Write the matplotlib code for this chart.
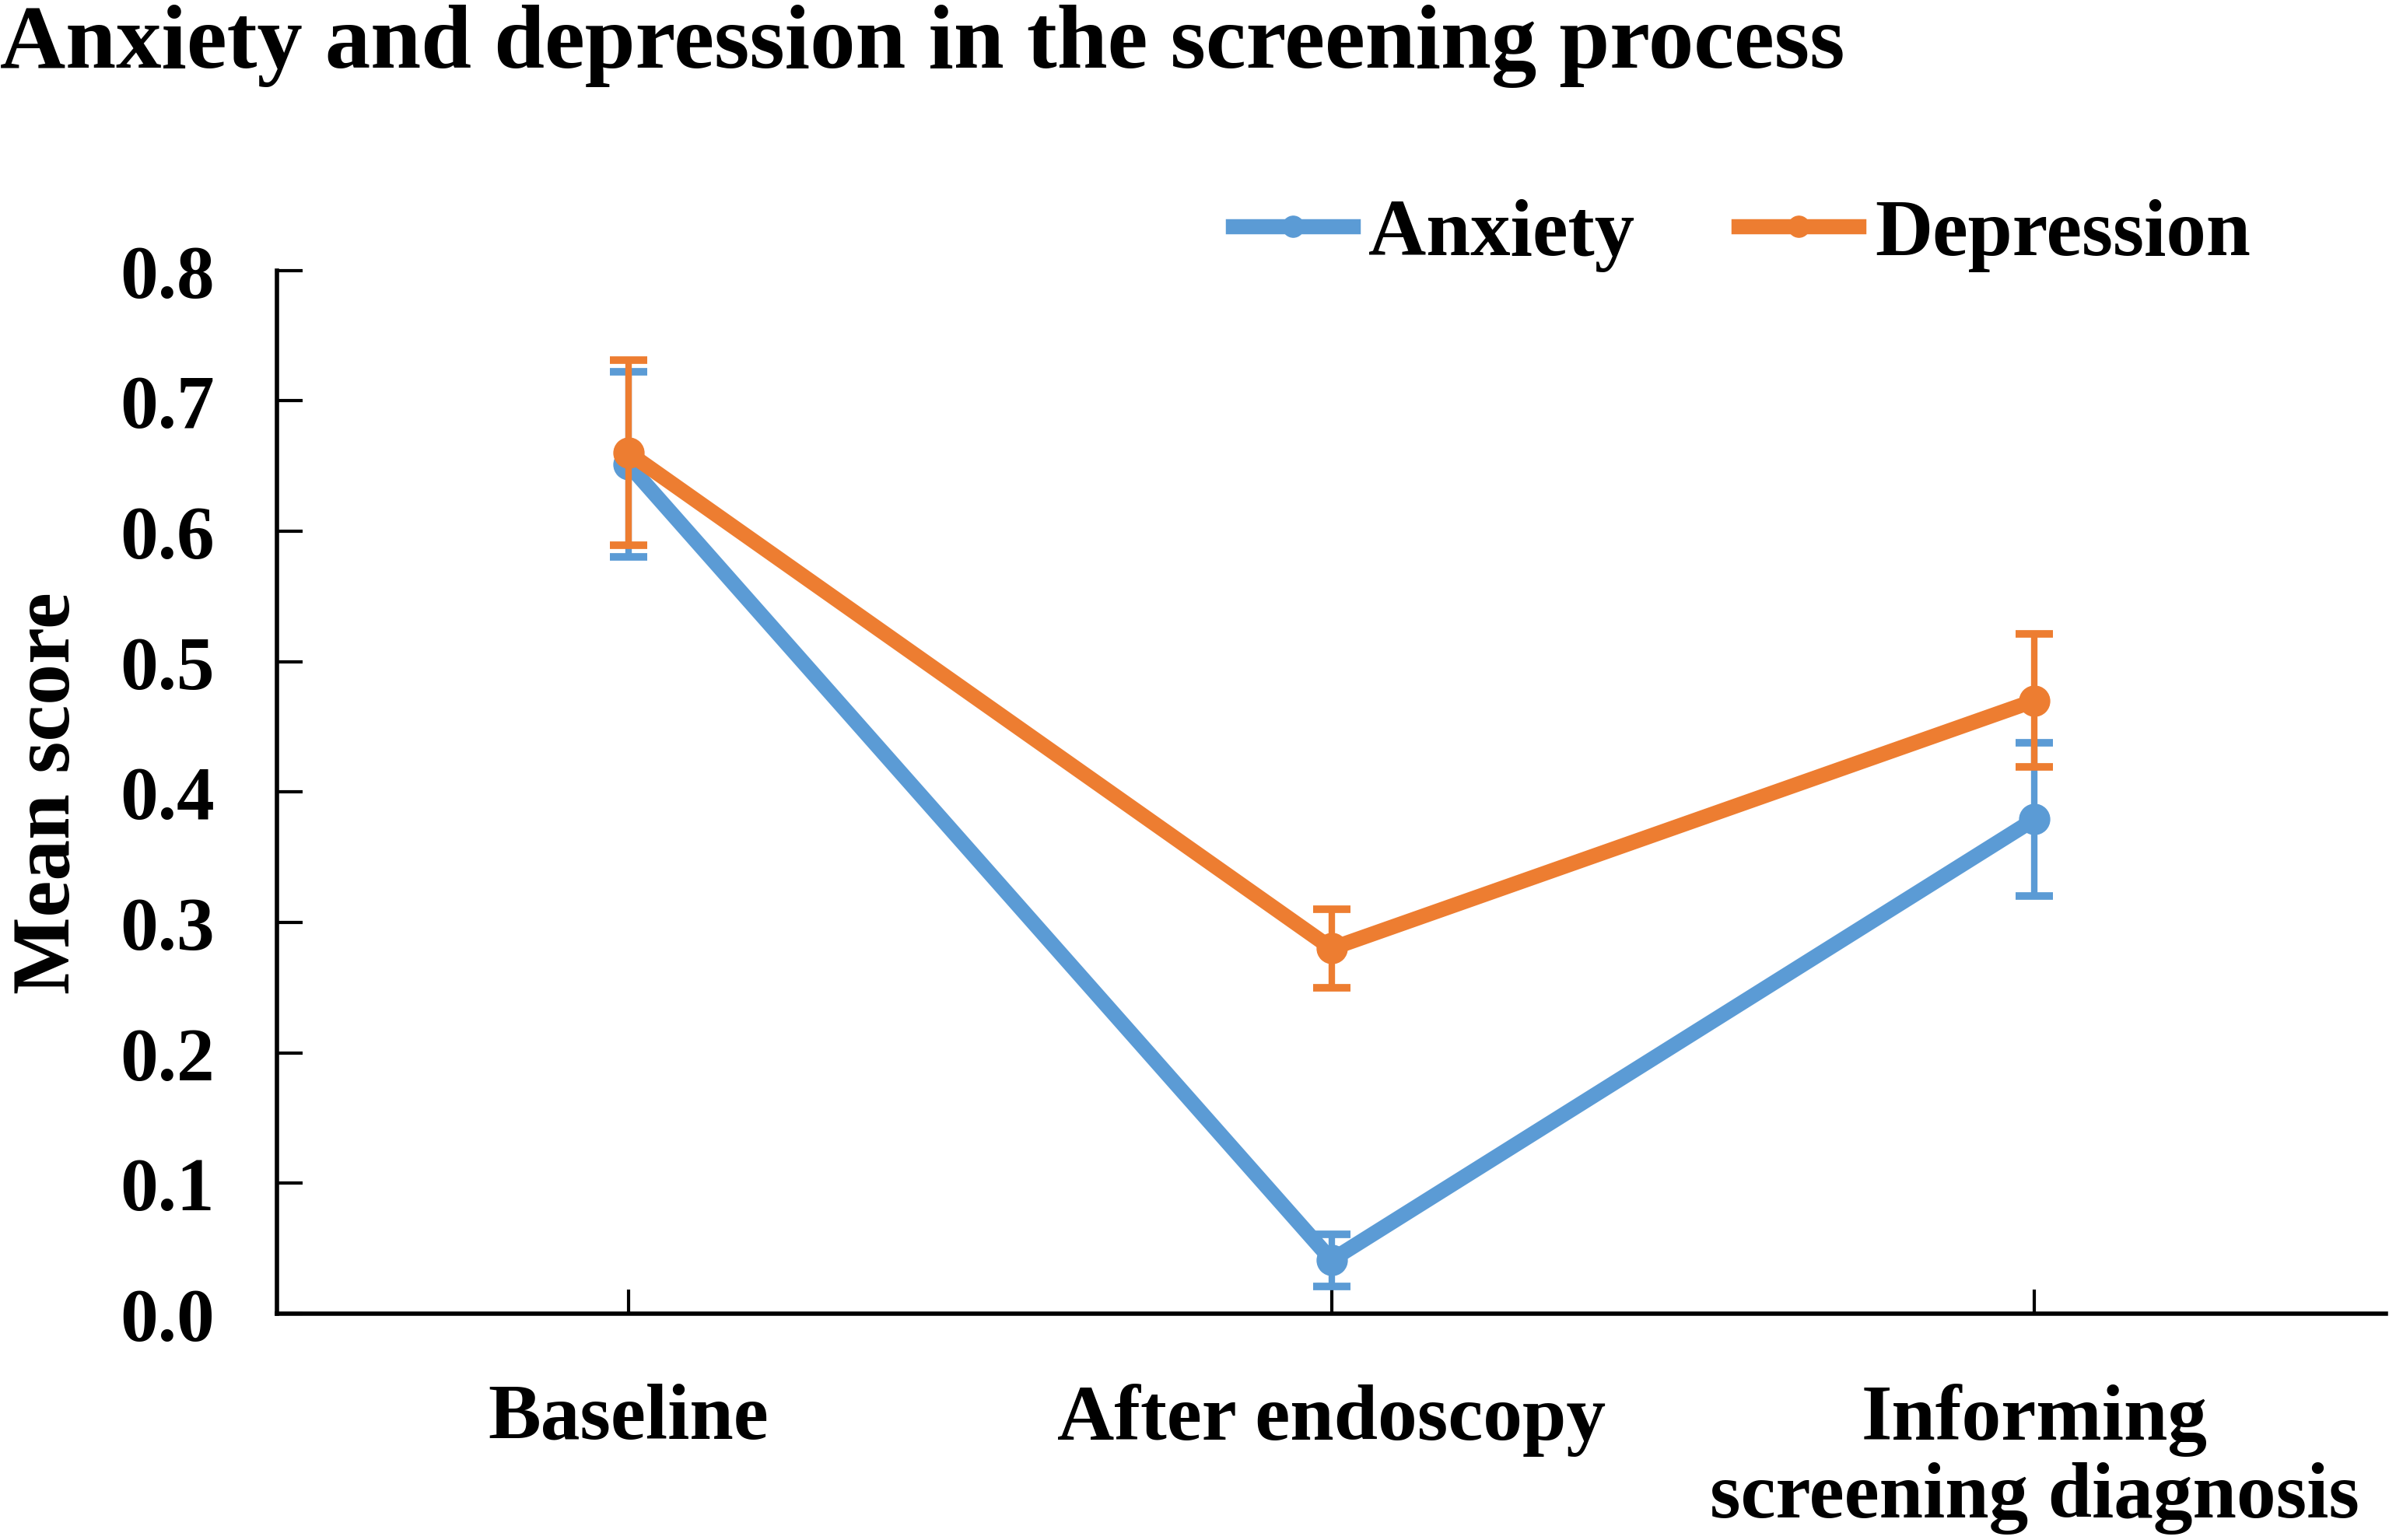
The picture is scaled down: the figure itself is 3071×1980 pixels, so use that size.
import matplotlib
matplotlib.use('Agg')
import matplotlib.pyplot as plt

plt.rcParams['font.family'] = ['Liberation Serif', 'DejaVu Serif']
plt.rcParams['font.weight'] = 'bold'

# data
stages = ['Baseline', 'After endoscopy', 'Informing\nscreening diagnosis']
anxiety = [0.651, 0.041, 0.379]
anxiety_err = [0.071, 0.020, 0.059]
depression = [0.660, 0.280, 0.470]
depression_err = [0.071, 0.030, 0.051]
yticks = [0.0, 0.1, 0.2, 0.3, 0.4, 0.5, 0.6, 0.7, 0.8]

BLUE = '#5B9BD5'
ORANGE = '#ED7D31'

fig = plt.figure(figsize=(30.71, 19.81), dpi=100)
ax = fig.add_axes([0.116, 0.147, 0.8827, 0.677])

x = [i + 0.5 for i in range(len(stages))]

series = [(anxiety, anxiety_err, BLUE, 'Anxiety'),
          (depression, depression_err, ORANGE, 'Depression')]
for vals, err, col, name in series:
	ax.errorbar(x, vals, yerr=err, fmt='none', ecolor=col, elinewidth=6,
		capsize=17, capthick=7)
	ax.plot(x, vals, '-o', color=col, lw=14, ms=28, label=name)

ax.set_xlim(0, 3)
ax.set_ylim(0, 0.8)
ax.set_yticks(yticks)
ax.set_yticklabels(['%.1f' % v for v in yticks], fontsize=70, fontweight='bold')
ax.set_xticks(x)
ax.set_xticklabels(stages, fontsize=73, fontweight='bold', linespacing=1.1)
ax.tick_params(axis='y', direction='in', length=24, width=3, pad=58)
ax.tick_params(axis='x', direction='in', length=22, width=3, pad=64)

for s in ['top', 'right']:
	ax.spines[s].set_visible(False)
for s in ['left', 'bottom']:
	ax.spines[s].set_linewidth(4)

ax.set_ylabel('Mean score', fontsize=76, fontweight='bold', labelpad=30)

fig.text(0.0, 0.997, 'Anxiety and depression in the screening process',
	fontsize=84, fontweight='bold', ha='left', va='top')

fig.legend(loc='center', bbox_to_anchor=(0.729, 0.847), ncol=2, frameon=False,
	prop={'size': 74, 'weight': 'bold'}, handlelength=1.5,
	handletextpad=0.2, columnspacing=1.3, markerscale=0.7)

fig.savefig('out.png', dpi=100)
